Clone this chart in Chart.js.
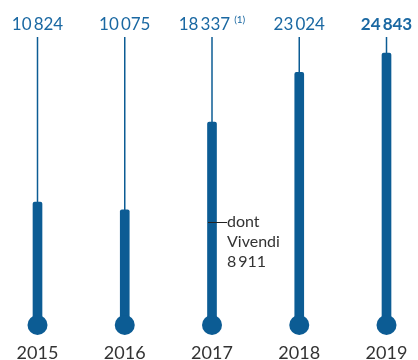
<!DOCTYPE html>
<html>
<head>
<meta charset="utf-8">
<script src="https://cdn.jsdelivr.net/npm/chart.js@4.4.1/dist/chart.umd.min.js"></script>
<style>
    html, body { margin: 0; padding: 0; background: #fff; }
    #wrap { width: 418px; height: 360px; }
</style>
</head>
<body>
<div id="wrap"><canvas id="chart" width="418" height="360"></canvas></div>
<script>
const YEARS        = ['2015', '2016', '2017', '2018', '2019'];
const REVENUE      = [10824, 10075, 18337, 23024, 24843];
const VALUE_LABELS = ['10\u2009824', '10\u2009075', '18\u2009337', '23\u2009024', '24\u2009843'];
const NOTE_MARKS   = ['', '', '(1)', '', ''];
const BOLD_LABELS  = [false, false, false, false, true];

const VIVENDI_INDEX = 2;
const VIVENDI_VALUE = 8911;
const VIVENDI_LINES = ['dont', 'Vivendi', '8\u2009911'];

const BLUE = '#0c5c94';
const TEXT_BLUE = '#1a68a2';
const GREY = '#333333';
const FONT = 'Lato, "Open Sans", sans-serif';

// thin stems, round bulbs and the texts around the bars
const thermoPlugin = {
    id: 'thermo',
    afterDatasetsDraw(chart)
    {
        const ctx = chart.ctx;
        const area = chart.chartArea;
        const meta = chart.getDatasetMeta(0);

        ctx.save();

        meta.data.forEach((bar, i) => {
            // stem from the top of the area to the bar
            ctx.strokeStyle = BLUE;
            ctx.lineWidth = 1.5;
            ctx.beginPath();
            ctx.moveTo(bar.x, area.top);
            ctx.lineTo(bar.x, bar.y + 2);
            ctx.stroke();

            // bulb under the bar
            ctx.fillStyle = BLUE;
            ctx.beginPath();
            ctx.arc(bar.x, bar.base + 8, 10, 0, Math.PI * 2);
            ctx.fill();

            // value label, with optional note mark
            const mainFont = (BOLD_LABELS[i] ? 'bold ' : '') + '17px ' + FONT;
            const noteFont = '10px ' + FONT;

            ctx.font = mainFont;
            const mainW = ctx.measureText(VALUE_LABELS[i]).width;
            let noteW = 0;
            if (NOTE_MARKS[i])
            {
                ctx.font = noteFont;
                noteW = ctx.measureText(NOTE_MARKS[i]).width + 4;
            }

            const startX = bar.x - (mainW + noteW) / 2;
            ctx.textAlign = 'left';
            ctx.textBaseline = 'alphabetic';
            ctx.fillStyle = TEXT_BLUE;
            ctx.font = mainFont;
            ctx.fillText(VALUE_LABELS[i], startX, area.top - 7);

            if (NOTE_MARKS[i])
            {
                ctx.font = noteFont;
                ctx.fillText(NOTE_MARKS[i], startX + mainW + 4, area.top - 14);
            }

            // year under the bulb
            ctx.font = '18px ' + FONT;
            ctx.textAlign = 'center';
            ctx.fillStyle = GREY;
            ctx.fillText(YEARS[i], bar.x, 359);
        });

        // Vivendi share marker
        const vBar = meta.data[VIVENDI_INDEX];
        const vy = chart.scales.y.getPixelForValue(VIVENDI_VALUE);
        ctx.strokeStyle = '#222';
        ctx.lineWidth = 1;
        ctx.beginPath();
        ctx.moveTo(vBar.x - 4, Math.round(vy) + 0.5);
        ctx.lineTo(vBar.x + 15, Math.round(vy) + 0.5);
        ctx.stroke();

        ctx.font = '16px ' + FONT;
        ctx.textAlign = 'left';
        ctx.textBaseline = 'middle';
        ctx.fillStyle = GREY;
        VIVENDI_LINES.forEach((line, k) => {
            ctx.fillText(line, vBar.x + 15, vy + k * 20);
        });

        ctx.restore();
    }
};

const chartCtx = document.getElementById('chart').getContext('2d');

const revenueChart = new Chart(chartCtx, {
    type: 'bar',
    data: {
        labels: YEARS,
        datasets: [{
            data: REVENUE,
            backgroundColor: BLUE,
            barThickness: 9,
            borderRadius: { topLeft: 2, topRight: 2, bottomLeft: 0, bottomRight: 0 },
            borderSkipped: false,
            clip: false
        }]
    },
    options: {
        responsive: false,
        animation: false,
        devicePixelRatio: 1,
        layout: {
            padding: { left: 37.5, right: 31.5, top: 37, bottom: 43 }
        },
        plugins: {
            legend: { display: false },
            tooltip: { enabled: false }
        },
        scales: {
            x: {
                display: false,
                offset: false
            },
            y: {
                display: false,
                min: 0,
                max: 26350
            }
        }
    },
    plugins: [thermoPlugin]
});
</script>
</body>
</html>
